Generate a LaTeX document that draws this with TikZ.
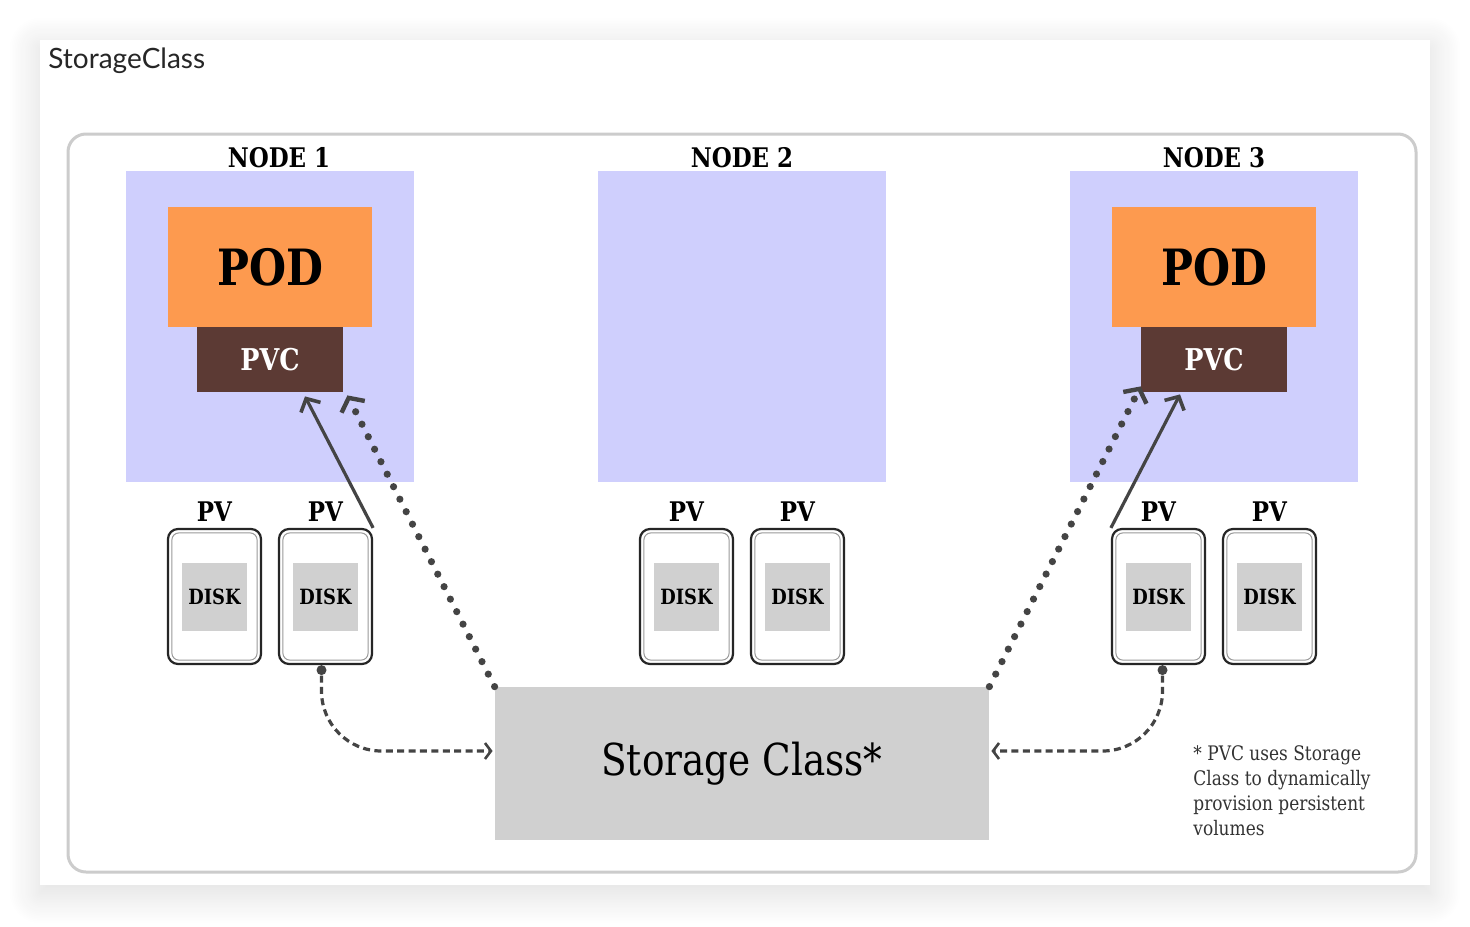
\documentclass[tikz,border=0pt]{standalone}
\usepackage{fontspec}
\usetikzlibrary{arrows.meta, calc, shadows.blur}
\newfontfamily\slabfont{DejaVu Serif}[FakeStretch=0.85]
\newfontfamily\latofont{Lato}
\definecolor{nodebg}{HTML}{CFCFFD}
\definecolor{podorange}{HTML}{FD9A4F}
\definecolor{pvcbrown}{HTML}{5C3A34}
\definecolor{diskgray}{HTML}{D0D0D0}
\definecolor{framegray}{HTML}{CCCCCC}
\definecolor{arrowgray}{HTML}{444444}
\tikzstyle{card} = [rectangle, fill=white, inner sep=0pt, minimum width=695pt, minimum height=422.5pt, blur shadow={shadow blur radius=16pt, shadow blur steps=20, shadow xshift=0pt, shadow yshift=-4pt, shadow opacity=14}]
\tikzstyle{frame} = [rectangle, rounded corners=9pt, draw=framegray, line width=1.5pt, minimum width=674pt, minimum height=369pt]
\tikzstyle{k8snode} = [rectangle, fill=nodebg, inner sep=0pt, minimum width=144pt, minimum height=155.5pt]
\tikzstyle{nodetitle} = [font=\slabfont\bfseries\fontsize{13.5}{16}\selectfont]
\tikzstyle{pod} = [rectangle, fill=podorange, inner sep=0pt, minimum width=102pt, minimum height=60pt, font=\slabfont\bfseries\fontsize{25}{30}\selectfont]
\tikzstyle{pvc} = [rectangle, fill=pvcbrown, text=white, inner sep=0pt, minimum width=73pt, minimum height=32.5pt, font=\slabfont\bfseries\fontsize{15}{18}\selectfont]
\tikzstyle{pvtitle} = [font=\slabfont\bfseries\fontsize{13.5}{16}\selectfont]
\tikzstyle{pvcard} = [rectangle, rounded corners=5pt, draw=black!85, line width=1.1pt, fill=white, inner sep=0pt, minimum width=46.5pt, minimum height=67.5pt]
\tikzstyle{disk} = [rectangle, fill=diskgray, inner sep=0pt, minimum width=32.5pt, minimum height=34pt, font=\slabfont\bfseries\fontsize{10.5}{12}\selectfont]
\tikzstyle{storage} = [rectangle, fill=diskgray, inner sep=0pt, minimum width=247pt, minimum height=76.5pt, font=\slabfont\fontsize{22}{26}\selectfont]
\tikzstyle{dot} = [circle, fill=arrowgray, inner sep=0pt, minimum size=5pt]
\tikzstyle{link} = [line width=1.6pt, draw=arrowgray, -{Straight Barb[length=5pt, width=11pt, line width=1.8pt]}]
\tikzstyle{dotlink} = [line width=3.6pt, draw=arrowgray, line cap=round, dash pattern=on 0pt off 7pt, -{Straight Barb[length=5pt, width=13pt, line width=2.2pt]}]
\tikzstyle{dashlink} = [line width=1.6pt, draw=arrowgray, dash pattern=on 3.5pt off 2.2pt, rounded corners=30pt, -{Straight Barb[length=3pt, width=8pt, line width=1.3pt]}]
\begin{document}
\begin{tikzpicture}[x=0.5pt, y=-0.5pt]
\useasboundingbox (0,0) rectangle (1470,926);

\node (card) [card] at (735,462.5) {};
\node (title) [anchor=base west, inner sep=0pt, text=black!85, font=\latofont\fontsize{14}{16}\selectfont] at (48,68) {StorageClass};
\node (frame) [frame] at (742,503) {};

\foreach \i/\x/\lx in {1/270/279, 2/742/742, 3/1214/1214} {
  \node (node\i) [k8snode] at (\x,326.5) {};
  \node (title\i) [nodetitle] at (\lx,158) {NODE \i};
  \node (pva\i) [pvcard] at (\x-55.5,596.5) {};
  \node (pvb\i) [pvcard] at (\x+55.5,596.5) {};
  \foreach \c in {pva\i, pvb\i}
    \draw [black!40, line width=0.5pt, rounded corners=3.5pt] ([shift={(5,5)}]\c.north west) rectangle ([shift={(-5,-5)}]\c.south east);
  \node (diska\i) [disk] at (pva\i) {DISK};
  \node (diskb\i) [disk] at (pvb\i) {DISK};
  \node [pvtitle] at (\x-55.5,512) {PV};
  \node [pvtitle] at (\x+55.5,512) {PV};
}

\node (pod1) [pod] at (270,267) {POD};
\node (pvc1) [pvc] at (270,359.5) {PVC};
\node (pod3) [pod] at (1214,267) {POD};
\node (pvc3) [pvc] at (1214,359.5) {PVC};

\node (sc) [storage] at (742,763.5) {\raisebox{-1pt}{Storage Class*}};
\node (note) [anchor=north west, inner sep=0pt, align=left, text=black!80, font=\slabfont\fontsize{10}{12.5}\selectfont] at (1193,745) {* PVC uses Storage\\Class to dynamically\\provision persistent\\volumes};

\node (s1) [dot] at ($(pvb1.south)+(-4,5)$) {};
\node (s3) [dot] at ($(pva3.south)+(4,5)$) {};

\draw [link] (pvb1.north east) -- ($(pvc1.south)+(35,4)$);
\draw [link] (pva3.north west) -- ($(pvc3.south)+(-34,2)$);
\draw [dotlink] (sc.north west) -- ($(pvc1.south east)+(4,3)$);
\draw [dotlink] (sc.north east) -- ($(pvc3.south west)+(0,-6)$);
\draw [dashlink] (s1) |- ($(sc.west)+(-2,-12.5)$);
\draw [dashlink] (s3) |- ($(sc.east)+(2,-12.5)$);

\end{tikzpicture}
\end{document}
